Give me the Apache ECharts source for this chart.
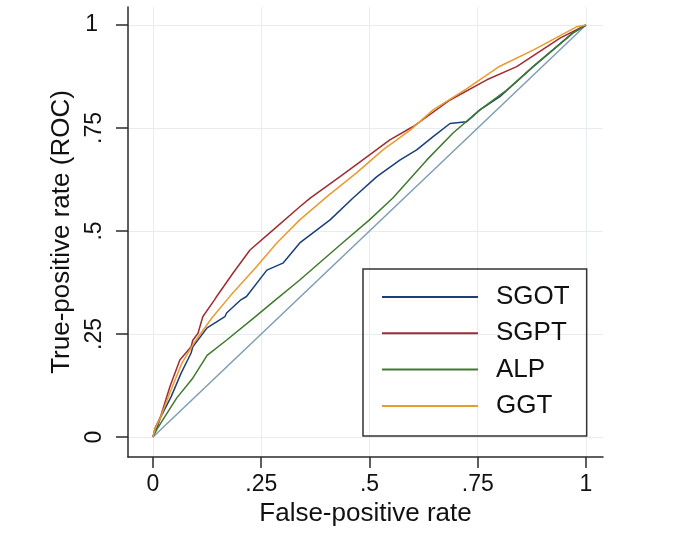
<!DOCTYPE html>
<html>
<head>
<meta charset="utf-8">
<script src="https://cdn.jsdelivr.net/npm/echarts@6/dist/echarts.min.js"></script>
<style>
  html, body { margin: 0; background: #fff; }
  #chart { width: 685px; height: 539px; }
</style>
</head>
<body>
<div id="chart"></div>
<script>
// ROC curves, [false-positive rate, true-positive rate]
const sgot = [
  [0, 0], [0.009, 0.022], [0.018, 0.049], [0.042, 0.098], [0.065, 0.155],
  [0.088, 0.204], [0.092, 0.219], [0.125, 0.265], [0.166, 0.292], [0.170, 0.301],
  [0.203, 0.333], [0.216, 0.341], [0.263, 0.405], [0.300, 0.422], [0.339, 0.471],
  [0.409, 0.527], [0.462, 0.580], [0.517, 0.632], [0.570, 0.672], [0.609, 0.697],
  [0.647, 0.729], [0.686, 0.761], [0.724, 0.765], [0.755, 0.794], [0.801, 0.826],
  [0.878, 0.899], [0.970, 0.981], [1, 1]
];
const sgpt = [
  [0, 0], [0.005, 0.022], [0.018, 0.051], [0.039, 0.122], [0.062, 0.187],
  [0.088, 0.219], [0.092, 0.235], [0.104, 0.252], [0.115, 0.292], [0.142, 0.333],
  [0.147, 0.341], [0.185, 0.398], [0.224, 0.454], [0.277, 0.502], [0.339, 0.559],
  [0.363, 0.580], [0.432, 0.632], [0.494, 0.680], [0.547, 0.721], [0.600, 0.753],
  [0.686, 0.818], [0.771, 0.867], [0.840, 0.899], [0.940, 0.968], [1, 1]
];
const alp = [
  [0, 0], [0.004, 0.010], [0.027, 0.049], [0.055, 0.095], [0.090, 0.140],
  [0.125, 0.198], [0.171, 0.236], [0.233, 0.289], [0.283, 0.333], [0.339, 0.381],
  [0.432, 0.466], [0.500, 0.527], [0.554, 0.580], [0.632, 0.672], [0.693, 0.738],
  [0.755, 0.794], [0.817, 0.842], [0.878, 0.899], [0.970, 0.981], [1, 1]
];
const ggt = [
  [0, 0], [0.004, 0.017], [0.009, 0.029], [0.018, 0.049], [0.040, 0.110],
  [0.067, 0.180], [0.099, 0.235], [0.136, 0.289], [0.178, 0.342], [0.239, 0.413],
  [0.286, 0.471], [0.339, 0.527], [0.401, 0.583], [0.470, 0.641], [0.531, 0.697],
  [0.594, 0.745], [0.647, 0.794], [0.724, 0.845], [0.801, 0.900], [0.878, 0.939],
  [0.979, 0.996], [1, 1]
];
const reference = [[0, 0], [1, 1]];

const tickValues = [0, 0.25, 0.5, 0.75, 1];
const tickLabels = ['0', '.25', '.5', '.75', '1'];

const FONT = '"Liberation Sans", Arial, sans-serif';
const AXIS_COLOR = '#2a2a2a';
const GRID_COLOR = '#e6ecef';

const tickText = (v) => {
  const i = tickValues.findIndex((t) => Math.abs(t - v) < 1e-6);
  return i < 0 ? '' : tickLabels[i];
};

const chart = echarts.init(document.getElementById('chart'));

const xMin = -0.0577, xMax = 1.0393;
const yMin = -0.0485, yMax = 1.0437;

const lineSeries = (name, data, color) => ({
  name,
  type: 'line',
  data,
  color,
  symbol: 'none',
  showSymbol: false,
  lineStyle: { color, width: 1.5 },
  silent: true,
  animation: false,
});

chart.setOption({
  backgroundColor: '#fff',
  animation: false,
  grid: {
    left: 128, right: 82, top: 7, bottom: 82,
    containLabel: false,
    outerBoundsMode: 'none',
  },
  legend: {
    data: ['SGOT', 'SGPT', 'ALP', 'GGT'],
    orient: 'vertical',
    left: 363,
    top: 269,
    padding: [15, 17, 17, 18],
    itemWidth: 96,
    itemHeight: 26,
    itemGap: 10.3,
    borderColor: '#333',
    borderWidth: 1.5,
    selectedMode: false,
    itemStyle: { opacity: 0 }, // line only, no marker
    textStyle: {
      fontFamily: FONT, fontSize: 26, color: '#111', lineHeight: 26,
      padding: [0, 0, 0, 13],
    },
  },
  xAxis: {
    type: 'value',
    min: xMin,
    max: xMax,
    name: 'False-positive rate',
    nameLocation: 'middle',
    nameGap: 39,
    nameTextStyle: { fontFamily: FONT, fontSize: 26, color: '#111' },
    axisLine: { show: true, onZero: false, lineStyle: { color: AXIS_COLOR, width: 1.5 } },
    axisTick: { show: true, length: 11, customValues: tickValues, lineStyle: { color: AXIS_COLOR, width: 1.5 } },
    axisLabel: {
      customValues: tickValues, formatter: tickText,
      fontFamily: FONT, fontSize: 23, color: '#111', margin: 16,
    },
    splitLine: { show: true, lineStyle: { color: GRID_COLOR, width: 1 } },
  },
  yAxis: [
    {
      type: 'value',
      position: 'left',
      min: yMin,
      max: yMax,
      name: 'True-positive rate (ROC)',
      nameLocation: 'middle',
      nameRotate: 90,
      nameGap: 45,
      nameTextStyle: { fontFamily: FONT, fontSize: 26, color: '#111' },
      axisLine: { show: true, onZero: false, lineStyle: { color: AXIS_COLOR, width: 1.5 } },
      axisTick: { show: true, length: 12, customValues: tickValues, lineStyle: { color: AXIS_COLOR, width: 1.5 } },
      axisLabel: {
        customValues: [0, 0.25, 0.5, 0.75], formatter: tickText, rotate: 90,
        fontFamily: FONT, fontSize: 23, color: '#111', margin: 22,
      },
      splitLine: { show: true, lineStyle: { color: GRID_COLOR, width: 1 } },
    },
    {
      // the top label "1" stands upright in the original
      type: 'value',
      position: 'left',
      min: yMin,
      max: yMax,
      axisLine: { show: false },
      axisTick: { show: false },
      axisLabel: {
        customValues: [1], formatter: tickText,
        fontFamily: FONT, fontSize: 23, color: '#111', margin: 30,
      },
      splitLine: { show: false },
    },
  ],
  series: [
    lineSeries('reference', reference, '#7f9db3'),
    lineSeries('SGOT', sgot, '#1a3f7a'),
    lineSeries('SGPT', sgpt, '#a02b30'),
    lineSeries('ALP', alp, '#3f7a2c'),
    lineSeries('GGT', ggt, '#eb9a2e'),
  ],
});
</script>
</body>
</html>
